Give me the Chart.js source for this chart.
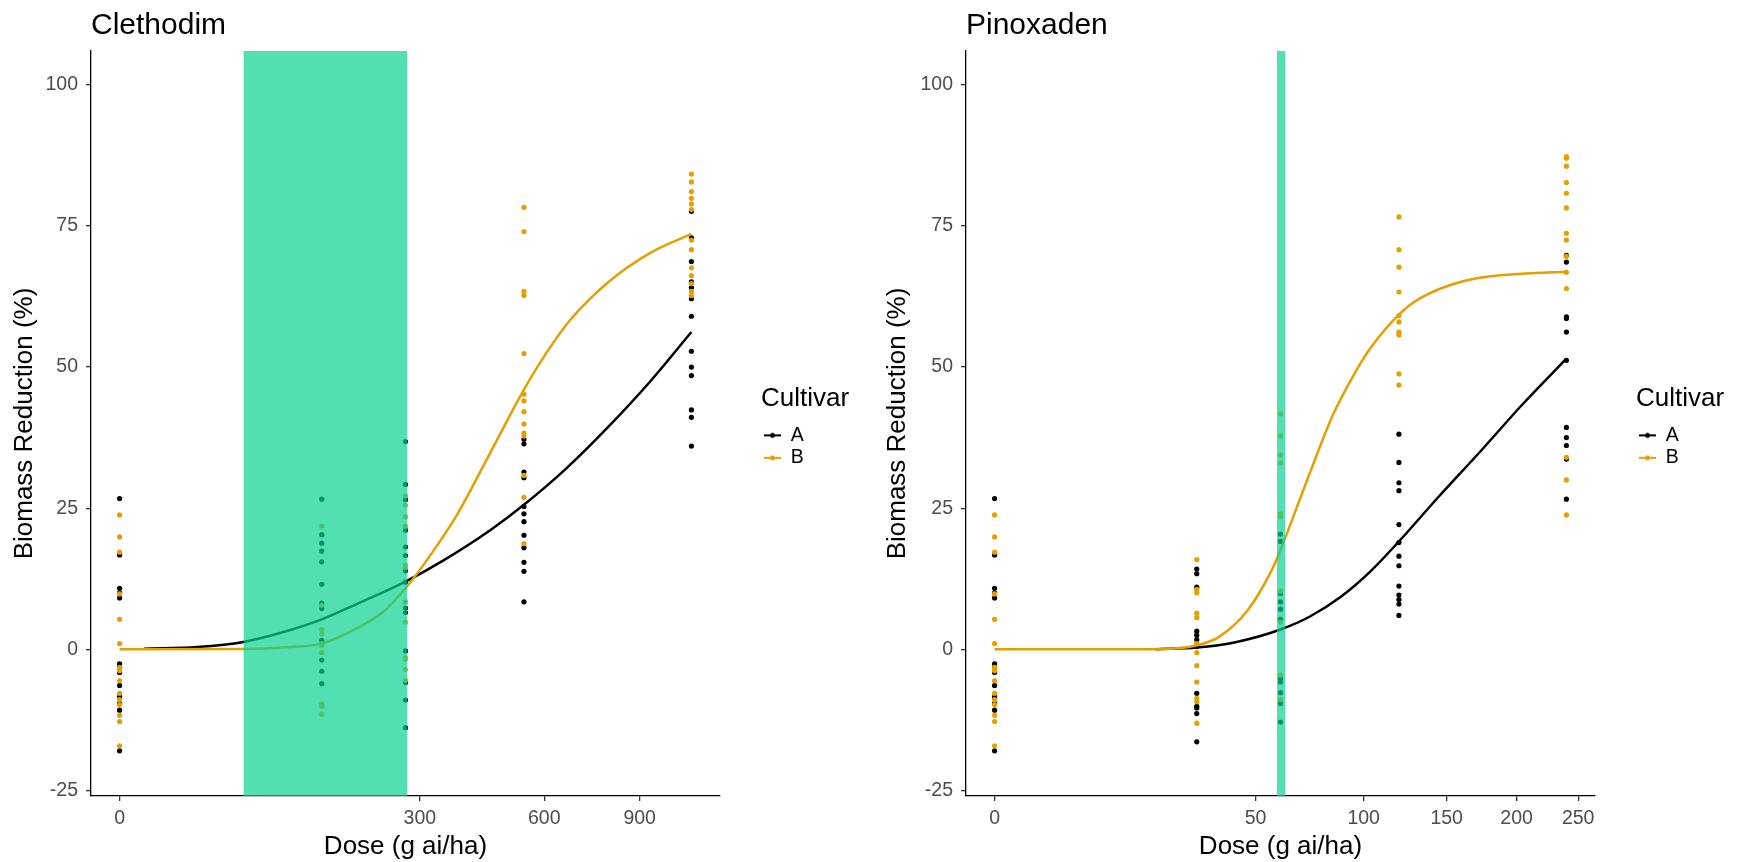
<!DOCTYPE html>
<html>
<head>
<meta charset="utf-8">
<title>Biomass reduction by dose</title>
<script src="https://cdn.jsdelivr.net/npm/chart.js@4.4.1/dist/chart.umd.min.js"></script>
<style>
  body { margin: 0; background: #fff; }
  .panels { display: flex; width: 1742px; height: 862px; }
  .panels canvas { display: block; }
</style>
</head>
<body>
<div class="panels">
  <canvas id="clethodim" width="871" height="862"></canvas>
  <canvas id="pinoxaden" width="871" height="862"></canvas>
</div>
<script>
const FONT = '"Liberation Sans", Arial, sans-serif';
const colA = '#000000';
const colB = '#E69F00';

const yLimits = [-20, 100];
const yTicks = [-25, 0, 25, 50, 75, 100];

// Clethodim -------------------------------------------------
const clethodimDoses = [0, 136, 272, 544, 1088];
const clethodimTicks = [0, 300, 600, 900];
const clethodimBand = [51, 275];

const clethodimA = [
  [26.7, 16.9, 16.7, 10.8, 10.0, 9.1, -2.6, -3.2, -4.1, -6.4, -8.4, -9.6, -10.8, -18.0],
  [26.6, 20.3, 18.8, 17.4, 15.5, 11.5, 8.2, 7.2, 1.6, -1.9, -3.9, -6.1],
  [36.8, 29.2, 26.5, 21.1, 18.1, 16.6, 13.9, 11.9, 7.3, 6.5, -0.3, -5.9, -9.0, -13.9],
  [37.2, 36.4, 31.4, 30.4, 25.3, 24.0, 22.6, 20.2, 18.0, 15.4, 13.8, 8.4],
  [77.6, 72.9, 68.7, 65.1, 64.1, 62.1, 59.0, 52.8, 50.0, 48.5, 42.4, 41.1, 36.0]
];
const clethodimB = [
  [23.8, 19.9, 17.2, 9.8, 5.3, 1.0, -3.2, -3.8, -5.6, -7.8, -8.9, -9.8, -11.7, -12.8, -17.1],
  [21.8, 7.8, 3.5, 2.7, 1.0, 0.7, -0.6, -9.7, -10.1, -11.5],
  [27.2, 25.5, 23.5, 21.8, 14.9, 14.5, 8.4, 4.8, -1.5, -1.8, -3.6, -5.5],
  [78.3, 74.0, 63.4, 62.7, 52.4, 45.2, 44.0, 42.1, 39.9, 38.3, 37.8, 30.8, 26.9, 18.7],
  [84.2, 82.8, 81.1, 79.9, 78.9, 77.9, 72.5, 70.8, 67.6, 66.2, 64.8, 63.4, 62.7]
];

// fitted curves
const clethodimFitDosesA = [2, 20, 51, 97, 136, 187, 272, 350, 457, 544, 665, 800, 936, 1088];
const clethodimFitA = [0.1, 0.4, 1.3, 3.4, 5.3, 8.0, 12.0, 15.8, 21.1, 25.6, 32.1, 39.7, 47.4, 56.2];
const clethodimFitDosesB = [0, 50, 97, 136, 187, 230, 272, 320, 380, 457, 544, 607, 675, 800, 936, 1088];
const clethodimFitB = [0, 0.05, 0.4, 1.0, 3.7, 6.5, 10.8, 16.5, 24.0, 34.8, 46.0, 52.6, 58.3, 65.3, 70.2, 73.6];

// Pinoxaden -------------------------------------------------
const pinoxadenDoses = [0, 30, 60, 120, 240];
const pinoxadenTicks = [0, 50, 100, 150, 200, 250];
const pinoxadenBand = [58.5, 62];

const pinoxadenA = [
  [26.7, 16.9, 16.7, 10.8, 10.0, 9.1, -2.6, -3.2, -4.1, -6.4, -8.4, -9.6, -10.8, -18.0],
  [14.2, 13.4, 11.0, 3.2, 2.5, 1.7, 0.5, -7.8, -10.1, -10.4, -11.4, -16.4],
  [20.4, 19.1, 9.9, 8.4, 7.1, 5.3, -5.2, -5.8, -7.7, -9.6, -12.9],
  [38.1, 33.1, 29.5, 28.1, 22.1, 18.9, 16.5, 14.8, 11.2, 9.6, 8.8, 8.0, 6.0],
  [69.8, 68.6, 58.9, 58.6, 56.2, 51.2, 39.3, 37.5, 36.1, 33.7, 26.6]
];
const pinoxadenB = [
  [23.8, 19.9, 17.2, 9.8, 5.3, 1.0, -3.2, -3.8, -5.6, -7.8, -8.9, -9.8, -11.7, -12.8, -17.1],
  [15.9, 10.6, 10.0, 6.4, 5.6, 1.0, -0.6, -2.9, -5.8, -8.7, -9.3, -13.1],
  [41.7, 37.8, 34.4, 33.0, 24.0, 23.5, 10.3, 4.8, -4.6, -8.9],
  [76.6, 70.8, 67.7, 63.3, 59.1, 58.0, 56.2, 55.7, 48.8, 46.8],
  [87.3, 87.0, 85.6, 82.7, 80.8, 78.2, 73.7, 72.5, 69.6, 66.8, 63.9, 34.0, 30.0, 23.8]
];

const pinoxadenFitDosesA = [19, 30, 43, 60, 73, 88, 104, 120, 144, 173, 205, 240];
const pinoxadenFitA = [0, 0.3, 1.3, 3.5, 5.8, 9.3, 13.9, 19.1, 26.8, 35.0, 43.5, 51.5];
const pinoxadenFitDosesB = [0, 15, 23, 30, 37, 47, 56, 60, 67, 73, 84, 95, 104, 120, 133, 161, 195, 240];
const pinoxadenFitB = [0, 0, 0.1, 0.7, 2.2, 6.9, 13.7, 17.6, 25.1, 31.3, 41.5, 48.8, 53.5, 59.3, 62.2, 65.2, 66.4, 66.9];

// x axis is square-root transformed
const sq = d => Math.sqrt(d);

function pointsFrom(doses, groups) {
  return doses.flatMap((d, i) => groups[i].map(v => ({ x: sq(d), y: v })));
}
function curveFrom(doses, values) {
  return doses.map((d, i) => ({ x: sq(d), y: values[i] }));
}
function expand(lo, hi) {
  const pad = (hi - lo) * 0.05;
  return [lo - pad, hi + pad];
}

// little line + dot legend key
function legendKey(color) {
  const c = document.createElement('canvas');
  c.width = 17; c.height = 8;
  const g = c.getContext('2d');
  g.strokeStyle = color;
  g.lineWidth = 2;
  g.beginPath(); g.moveTo(0, 4); g.lineTo(17, 4); g.stroke();
  g.fillStyle = color;
  g.beginPath(); g.arc(8.5, 4, 2.5, 0, Math.PI * 2); g.fill();
  return c;
}
const keyA = legendKey(colA);
const keyB = legendKey(colB);

const panelTitle = {
  id: 'panelTitle',
  afterDraw(chart, args, opts) {
    const ctx = chart.ctx;
    ctx.save();
    ctx.font = '30px ' + FONT;
    ctx.fillStyle = '#000';
    ctx.textBaseline = 'alphabetic';
    ctx.textAlign = 'left';
    ctx.fillText(opts.text, chart.chartArea.left, 34);
    ctx.restore();
  }
};

// legend box is clipped, so give it room for the "Cultivar" heading
const legendWidth = {
  id: 'legendWidth',
  beforeLayout(chart, args, opts) {
    const legend = chart.legend;
    if (!legend || legend._widened) return;
    const fit = legend.fit;
    legend.fit = function () {
      fit.call(this);
      this.width = opts.width;
    };
    legend._widened = true;
  }
};

const axisLine = { display: true, color: '#000', width: 1.3 };
const tickMarks = { display: true, drawOnChartArea: false, drawTicks: true, tickLength: 5, color: '#333', lineWidth: 1.3 };

function makePanel(id, name, p) {
  const xs = expand(0, sq(p.doses[p.doses.length - 1]));
  const ys = expand(yLimits[0], yLimits[1]);

  new Chart(id, {
    type: 'scatter',
    data: {
      datasets: [
        {
          type: 'line',
          data: [{ x: sq(p.band[0]), y: ys[1] }, { x: sq(p.band[1]), y: ys[1] }],
          fill: 'start',
          backgroundColor: 'rgba(9, 209, 146, 0.7)',
          borderWidth: 0,
          pointRadius: 0,
          order: 0
        },
        {
          type: 'line',
          data: curveFrom(p.fitDosesB, p.fitB),
          borderColor: colB, borderWidth: 2.5,
          pointRadius: 0, fill: false,
          cubicInterpolationMode: 'monotone',
          order: 1
        },
        {
          type: 'line',
          data: curveFrom(p.fitDosesA, p.fitA),
          borderColor: colA, borderWidth: 2.5,
          pointRadius: 0, fill: false,
          cubicInterpolationMode: 'monotone',
          order: 2
        },
        {
          data: pointsFrom(p.doses, p.B),
          backgroundColor: colB, borderWidth: 0, pointRadius: 2.6,
          order: 3
        },
        {
          data: pointsFrom(p.doses, p.A),
          backgroundColor: colA, borderWidth: 0, pointRadius: 2.6,
          order: 4
        }
      ]
    },
    options: {
      responsive: false,
      animation: false,
      devicePixelRatio: 1,
      layout: { padding: { top: 51, right: p.padRight, bottom: 0, left: 0 } },
      scales: {
        x: {
          type: 'linear',
          min: xs[0], max: xs[1],
          afterFit: s => { s.height = 66; },
          afterBuildTicks: s => { s.ticks = p.ticks.map(t => ({ value: sq(t) })); },
          ticks: {
            callback: v => Math.round(v * v),
            color: '#4D4D4D', font: { family: FONT, size: 19.5 },
            padding: 6, autoSkip: false, maxRotation: 0
          },
          grid: tickMarks,
          border: axisLine,
          title: {
            display: true, text: 'Dose (g ai/ha)', color: '#000',
            font: { family: FONT, size: 26 }, padding: { top: 0, bottom: 0 }
          }
        },
        y: {
          min: ys[0], max: ys[1],
          afterFit: s => { s.width = p.yWidth; },
          afterBuildTicks: s => { s.ticks = yTicks.map(v => ({ value: v })); },
          ticks: { color: '#4D4D4D', font: { family: FONT, size: 19.5 }, padding: 8 },
          grid: tickMarks,
          border: axisLine,
          title: {
            display: true, text: 'Biomass Reduction (%)', color: '#000',
            font: { family: FONT, size: 26 }, padding: { top: p.yTitlePad, bottom: 0 }
          }
        },
        gap: {
          type: 'linear', position: 'right',
          afterFit: s => { s.width = 41; },
          ticks: { display: false },
          grid: { display: false },
          border: { display: false }
        }
      },
      plugins: {
        panelTitle: { text: name },
        legendWidth: { width: 100 },
        tooltip: { enabled: false },
        legend: {
          position: 'right', align: 'center', fullSize: false,
          title: {
            display: true, text: 'Cultivar', color: '#000', position: 'start',
            font: { family: FONT, size: 26 }, padding: { top: 9, bottom: 6 }
          },
          labels: {
            usePointStyle: true, pointStyleWidth: 17, padding: 3,
            color: '#000', font: { family: FONT, size: 19.5 },
            generateLabels: () => [
              { text: 'A', pointStyle: keyA, fillStyle: colA, strokeStyle: colA, lineWidth: 0, hidden: false, datasetIndex: 4 },
              { text: 'B', pointStyle: keyB, fillStyle: colB, strokeStyle: colB, lineWidth: 0, hidden: false, datasetIndex: 3 }
            ]
          }
        }
      }
    },
    plugins: [panelTitle, legendWidth]
  });
}

makePanel('clethodim', 'Clethodim', {
  doses: clethodimDoses, ticks: clethodimTicks, band: clethodimBand,
  A: clethodimA, B: clethodimB,
  fitDosesA: clethodimFitDosesA, fitA: clethodimFitA,
  fitDosesB: clethodimFitDosesB, fitB: clethodimFitB,
  yWidth: 91, yTitlePad: 9, padRight: 10
});

makePanel('pinoxaden', 'Pinoxaden', {
  doses: pinoxadenDoses, ticks: pinoxadenTicks, band: pinoxadenBand,
  A: pinoxadenA, B: pinoxadenB,
  fitDosesA: pinoxadenFitDosesA, fitA: pinoxadenFitA,
  fitDosesB: pinoxadenFitDosesB, fitB: pinoxadenFitB,
  yWidth: 95, yTitlePad: 11, padRight: 6
});
</script>
</body>
</html>
